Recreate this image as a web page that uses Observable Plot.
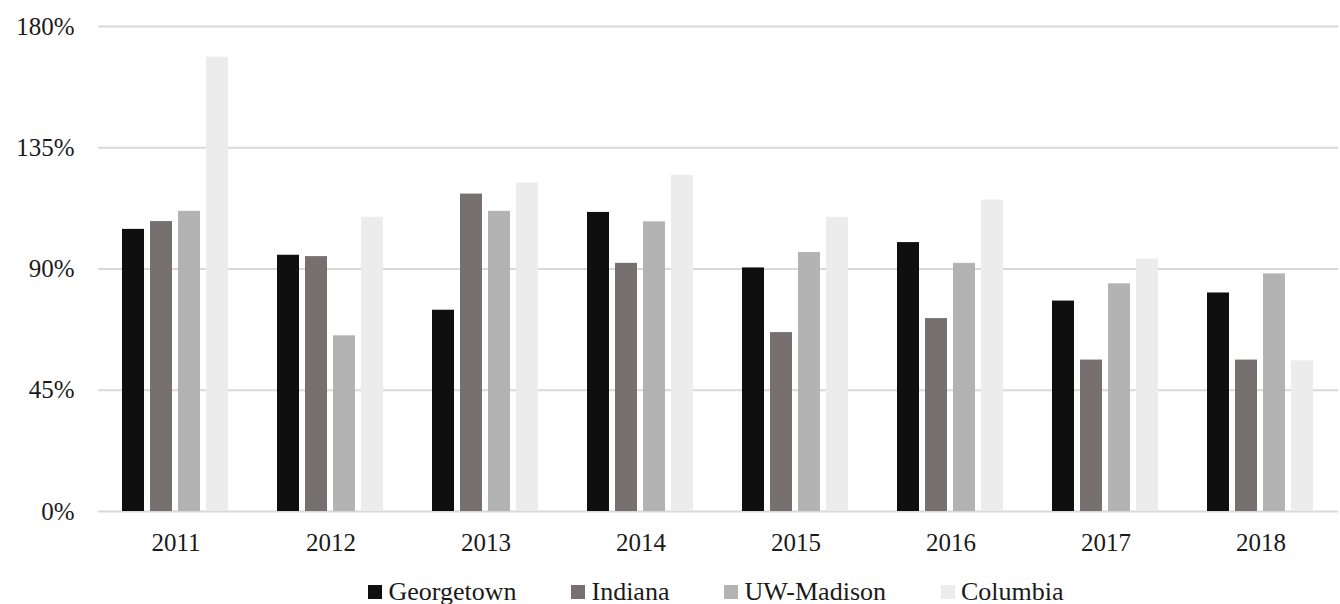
<!DOCTYPE html>
<html>
<head>
<meta charset="utf-8">
<script src="https://cdn.jsdelivr.net/npm/d3@7"></script>
<script src="https://cdn.jsdelivr.net/npm/@observablehq/plot@0.6"></script>
<style>
  html, body { margin: 0; padding: 0; background: #fff; }
  body { width: 1340px; height: 604px; overflow: hidden; font-family: "Liberation Serif", "DejaVu Serif", serif; color: #1a1a1a; }
  #legend { display: flex; justify-content: center; align-items: center; gap: 55px; margin-left: 92px; padding-top: 13px; height: 28px; font-size: 26px; }
  .item { display: flex; align-items: center; gap: 6px; }
  .sw { width: 14px; height: 14px; display: inline-block; }
</style>
</head>
<body>
<div id="chart"></div>
<div id="legend"></div>
<script>
const years = ["2011", "2012", "2013", "2014", "2015", "2016", "2017", "2018"];
const schools = ["Georgetown", "Indiana", "UW-Madison", "Columbia"];
const colors = ["#0f0f0f", "#767170", "#b3b3b3", "#ececec"];
const georgetown = [104.7, 95.1, 74.7, 111.0, 90.4, 99.8, 78.1, 81.1];
const indiana = [107.6, 94.6, 117.8, 92.1, 66.4, 71.6, 56.2, 56.2];
const uwMadison = [111.4, 65.2, 111.4, 107.5, 96.1, 92.1, 84.5, 88.2];
const columbia = [168.6, 109.2, 121.9, 124.8, 109.2, 115.6, 93.7, 55.9];
const yTicks = [0, 45, 90, 135, 180];

const series = [georgetown, indiana, uwMadison, columbia];
const data = [];
years.forEach((yr, i) => {
  schools.forEach((s, j) => data.push({year: yr, school: s, value: series[j][i]}));
});

const chart = Plot.plot({
  width: 1340,
  height: 565,
  marginLeft: 96,
  marginRight: 0,
  marginTop: 26,
  marginBottom: 54,
  style: {fontFamily: "'Liberation Serif', serif", fontSize: "25px", color: "#1a1a1a", background: "#fff"},
  fx: {domain: years, padding: 0, label: null},
  x: {domain: schools, paddingInner: 0.212, paddingOuter: 0.853, axis: null},
  y: {domain: [0, 180], label: null},
  color: {domain: schools, range: colors},
  marks: [
    Plot.gridY(yTicks, {stroke: "#d9d9d9", strokeOpacity: 1, strokeWidth: 2}),
    Plot.barY(data, {fx: "year", x: "school", y: "value", fill: "school"}),
    Plot.axisY(yTicks, {tickSize: 0, tickPadding: 24, tickFormat: d => d + "%", label: null, fontSize: 25}),
    Plot.axisFx({anchor: "bottom", tickSize: 0, tickPadding: 22, label: null, fontSize: 25})
  ]
});
document.getElementById("chart").appendChild(chart);

const legend = document.getElementById("legend");
schools.forEach((s, j) => {
  const it = document.createElement("div");
  it.className = "item";
  const sw = document.createElement("span");
  sw.className = "sw";
  sw.style.background = colors[j];
  const tx = document.createElement("span");
  tx.textContent = s;
  it.appendChild(sw);
  it.appendChild(tx);
  legend.appendChild(it);
});
</script>
</body>
</html>
